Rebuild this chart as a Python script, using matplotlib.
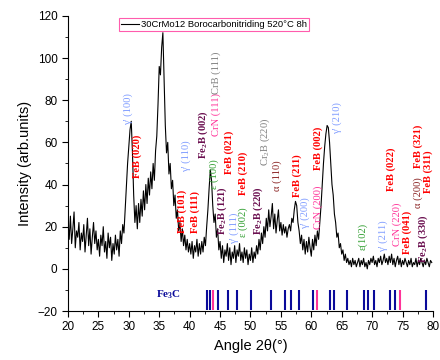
import matplotlib
matplotlib.use("Agg")
import matplotlib.pyplot as plt
from matplotlib.ticker import MultipleLocator
import numpy as np

# ---------------- data ----------------
angle_start, angle_step = 20.0, 0.2
intensity = [
    22, 14, 25, 12, 19, 27, 10, 18, 15, 22,
    9, 17, 13, 21, 8, 16, 24, 11, 19, 7,
    15, 22, 12, 18, 9, 14, 6, 16, 11, 20,
    8, 13, 5, 17, 10, 15, 4, 12, 7, 16,
    9, 14, 6, 18, 12, 21, 17, 28, 38, 50,
    58, 66, 70, 55, 35, 22, 30, 19, 31, 22,
    33, 25, 37, 28, 40, 31, 43, 35, 46, 38,
    50, 42, 56, 63, 78, 96, 92, 105, 112, 90,
    68, 55, 60, 45, 50, 38, 42, 30, 35, 24,
    28, 18, 22, 13, 19, 11, 16, 9, 14, 8,
    12, 7, 13, 5, 11, 8, 14, 6, 12, 7,
    13, 8, 15, 11, 20, 28, 38, 47, 42, 30,
    22, 26, 15, 19, 9, 13, 5, 11, 3, 9,
    6, 12, 4, 10, 2, 8, 5, 11, 3, 9,
    6, 12, 4, 8, 3, 10, 5, 9, 2, 7,
    4, 10, 3, 8, 5, 11, 7, 14, 9, 17,
    12, 20, 15, 24, 18, 28, 20, 25, 31, 19,
    26, 17, 23, 28, 18, 22, 16, 21, 17, 20,
    15, 19, 21, 18, 24, 22, 28, 32, 30, 22,
    18, 12, 16, 9, 14, 7, 13, 8, 15, 10,
    6, 14, 9, 16, 11, 18, 14, 22, 30, 40,
    50, 58, 64, 68, 67, 60, 50, 40, 35, 26,
    22, 15, 17, 10, 12, 7, 9, 4, 7, 3,
    5, 2, 4, 1, 5, 2, 4, 1, 3, 5,
    1, 4, 2, 5, 1, 3, 0, 4, 2, 5,
    3, 6, 2, 4, 1, 5, 3, 6, 2, 4,
    7, 3, 5, 2, 6, 3, 7, 2, 5, 1,
    4, 6, 2, 5, 1, 4, 2, 5, 3, 1,
    4, 2, 5, 1, 3, 2, 5, 1, 4, 2,
    5, 3, 1, 4, 2, 5, 3, 1, 4, 3,
]
two_theta = np.round(angle_start + angle_step * np.arange(len(intensity)), 1)

fe3c_blue = [42.9, 43.4, 44.7, 46.3, 47.8, 50.1, 53.4, 55.6, 56.7, 57.9,
             60.2, 63.0, 63.8, 65.8, 68.6, 69.4, 70.3, 72.9, 73.7, 78.9]
fe3c_pink = [43.9, 60.9, 74.5]

series_label = "30CrMo12 Borocarbonitriding 520°C 8h"

# peak annotations: text, 2theta, bottom intensity, color key, bold
RED, LBLUE, PINK, PURPLE, GRAY, GREEN, BROWN = (
    "#ff0000", "#7f9cff", "#ff3399", "#6b1050", "#808080", "#33a033", "#8b2323")
peak_labels = [
    ("γ' (100)", 29.9, 68, LBLUE, False),
    ("FeB (020)", 31.3, 43, RED, True),
    ("FeB (101)", 38.7, 17, RED, True),
    ("γ' (110)", 39.4, 46, LBLUE, False),
    ("FeB (111)", 40.9, 17, RED, True),
    ("Fe$_2$B (002)", 42.3, 52, PURPLE, True),
    ("ε (100)", 44.1, 38, GREEN, False),
    ("CrN (111)", 44.3, 63, PINK, False),
    ("CrB (111)", 44.3, 83, GRAY, False),
    ("Fe$_2$B (121)", 45.4, 16, PURPLE, True),
    ("FeB (021)", 46.5, 45, RED, True),
    ("γ' (111)", 47.3, 12, LBLUE, False),
    ("ε (002)", 48.8, 15, GREEN, False),
    ("FeB (210)", 48.8, 35, RED, True),
    ("Fe$_2$B (220)", 51.2, 16, PURPLE, True),
    ("Cr$_2$B (220)", 52.5, 49, GRAY, False),
    ("α (110)", 54.4, 37, BROWN, False),
    ("FeB (211)", 57.6, 34, RED, True),
    ("γ' (200)", 59.0, 19, LBLUE, False),
    ("CrN (200)", 61.1, 19, PINK, False),
    ("FeB (002)", 61.1, 47, RED, True),
    ("γ' (210)", 64.2, 64, LBLUE, False),
    ("ε(102)", 68.5, 9, GREEN, False),
    ("γ' (211)", 71.8, 8, LBLUE, False),
    ("FeB (022)", 73.1, 37, RED, True),
    ("CrN (220)", 74.2, 11, PINK, False),
    ("FeB (041)", 75.7, 7, RED, True),
    ("α (200)", 77.5, 29, BROWN, False),
    ("FeB (321)", 77.5, 48, RED, True),
    ("Fe$_2$B (330)", 78.4, 3, PURPLE, True),
    ("FeB (311)", 79.2, 36, RED, True),
]

# ---------------- figure ----------------
plt.rcParams["font.family"] = ["Liberation Sans", "DejaVu Sans"]
plt.rcParams["mathtext.default"] = "regular"

fig = plt.figure(figsize=(4.4, 3.6), dpi=100)
ax = fig.add_axes([0.1545, 0.136, 0.8295, 0.82])

ax.plot(two_theta, intensity, color="black", lw=0.8, label=series_label)

ax.vlines(fe3c_blue, -19.5, -10, colors="#0a0a9a", lw=1.5)
ax.vlines(fe3c_pink, -19.5, -10, colors="#ff3399", lw=1.5)
ax.text(34.4, -12.3, "Fe$_3$C", color="#0a0a9a", fontsize=8, fontweight="bold",
        family=["Liberation Serif", "DejaVu Serif"], ha="left", va="center")

for txt, x, y, col, bold in peak_labels:
    ax.text(x, y, txt, color=col, rotation=90, ha="center", va="bottom",
            fontsize=7.6, fontweight="bold" if bold else "normal",
            family=["Liberation Serif", "DejaVu Serif"])

ax.set_xlim(20, 80)
ax.set_ylim(-20, 120)
ax.xaxis.set_major_locator(MultipleLocator(5))
ax.xaxis.set_minor_locator(MultipleLocator(2.5))
ax.yaxis.set_major_locator(MultipleLocator(20))
ax.yaxis.set_minor_locator(MultipleLocator(10))
ax.tick_params(which="major", direction="out", length=4, width=0.8, labelsize=8.5)
ax.tick_params(which="minor", direction="out", length=2, width=0.6)
for s in ("top", "right"):
    ax.spines[s].set_visible(False)

ax.set_xlabel("Angle 2θ(°)", fontsize=10.5)
ax.set_ylabel("Intensity (arb.units)", fontsize=10.5)

leg = ax.legend(loc="upper center", bbox_to_anchor=(0.40, 0.995), fontsize=6.8,
                frameon=True, fancybox=False, handlelength=2.0, borderpad=0.2,
                handletextpad=0.2, borderaxespad=0.1)
leg.get_frame().set_edgecolor("#ff3399")
leg.get_frame().set_linewidth(0.8)

fig.savefig("out.png", dpi=100)
